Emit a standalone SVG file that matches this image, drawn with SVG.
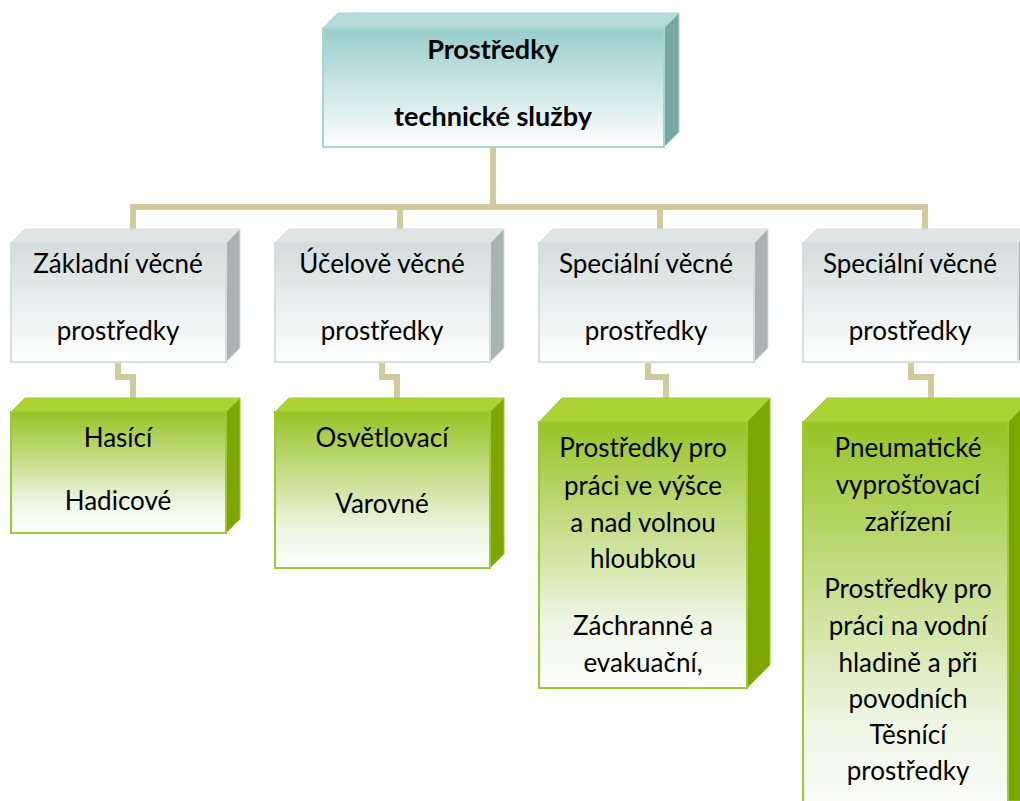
<svg xmlns="http://www.w3.org/2000/svg" width="1020" height="801" viewBox="0 0 1020 801">
<defs>
<linearGradient id="gTeal" x1="0" y1="0" x2="0" y2="1"><stop offset="0" stop-color="#98cdcb"/><stop offset="1" stop-color="#ffffff"/></linearGradient>
<linearGradient id="gGray" x1="0" y1="0" x2="0" y2="1"><stop offset="0" stop-color="#d3dcdc"/><stop offset="1" stop-color="#ffffff"/></linearGradient>
<linearGradient id="gGreen" x1="0" y1="0" x2="0" y2="1"><stop offset="0" stop-color="#97c425"/><stop offset="0.75" stop-color="#eef5e3"/><stop offset="1" stop-color="#ffffff"/></linearGradient>
</defs>
<style>
.conn{fill:none;stroke:#cfcb9e;stroke-width:6;stroke-linejoin:miter}
.tealF{fill:url(#gTeal);stroke:#a7d5d3;stroke-width:2}
.tealT{fill:#b4dbda;stroke:#a7d5d3;stroke-width:1}
.tealS{fill:#78a8a4;stroke:#a7d5d3;stroke-width:1}
.grayF{fill:url(#gGray);stroke:#d6dfdf;stroke-width:2}
.grayT{fill:#dfe5e5;stroke:#d6dfdf;stroke-width:1}
.grayS{fill:#a9b3b2;stroke:#d6dfdf;stroke-width:1}
.grnF{fill:url(#gGreen);stroke:#9cc935;stroke-width:2}
.grnT{fill:#acd434;stroke:#9cc935;stroke-width:1}
.grnS{fill:#7ea600;stroke:#9cc935;stroke-width:1}
text{font-family:Lato,"Liberation Sans",sans-serif;font-size:26px;fill:#000;text-anchor:middle}
.b{font-weight:bold;font-size:27px}
</style>
<g id="connectors">
<path class="conn" d="M493 147 V207 M133 229 V207 H925 V229 M400 207 V229 M660 207 V229"/>
<path class="conn" d="M118 362 V377 H133 V398"/>
<path class="conn" d="M382 362 V377 H397 V398"/>
<path class="conn" d="M648 362 V377 H666 V398"/>
<path class="conn" d="M911 362 V377 H931 V398"/>
</g>
<g id="root">
<polygon class="tealT" points="323,28 338,13 679,13 664,28"/>
<polygon class="tealS" points="664,28 679,13 679,132 664,147"/>
<rect class="tealF" x="323" y="28" width="341" height="119"/>
<text class="b" x="493" y="59">Prostředky</text>
<text class="b" x="493" y="126">technické služby</text>
</g>
<g id="zakladni">
<polygon class="grayT" points="11,243 25,229 240,229 226,243"/>
<polygon class="grayS" points="226,243 240,229 240,348 226,362"/>
<rect class="grayF" x="11" y="243" width="215" height="119"/>
<text x="118" y="273">Základní věcné</text>
<text x="118" y="340">prostředky</text>
</g>
<g id="ucelove">
<polygon class="grayT" points="275,243 289,229 504,229 490,243"/>
<polygon class="grayS" points="490,243 504,229 504,348 490,362"/>
<rect class="grayF" x="275" y="243" width="215" height="119"/>
<text x="382" y="273">Účelově věcné</text>
<text x="382" y="340">prostředky</text>
</g>
<g id="specialni1">
<polygon class="grayT" points="539,243 553,229 768,229 754,243"/>
<polygon class="grayS" points="754,243 768,229 768,348 754,362"/>
<rect class="grayF" x="539" y="243" width="215" height="119"/>
<text x="646" y="273">Speciální věcné</text>
<text x="646" y="340">prostředky</text>
</g>
<g id="specialni2">
<polygon class="grayT" points="803,243 817,229 1032,229 1018,243"/>
<polygon class="grayS" points="1018,243 1032,229 1032,348 1018,362"/>
<rect class="grayF" x="803" y="243" width="215" height="119"/>
<text x="910" y="273">Speciální věcné</text>
<text x="910" y="340">prostředky</text>
</g>
<g id="hasici">
<polygon class="grnT" points="11,412 25,398 240,398 226,412"/>
<polygon class="grnS" points="226,412 240,398 240,519 226,533"/>
<rect class="grnF" x="11" y="412" width="215" height="121"/>
<text x="118" y="447">Hasící</text>
<text x="118" y="510">Hadicové</text>
</g>
<g id="osvetlovaci">
<polygon class="grnT" points="275,412 289,398 504,398 490,412"/>
<polygon class="grnS" points="490,412 504,398 504,554 490,568"/>
<rect class="grnF" x="275" y="412" width="215" height="156"/>
<text x="382" y="447">Osvětlovací</text>
<text x="382" y="513">Varovné</text>
</g>
<g id="vyska">
<polygon class="grnT" points="539,422 562,398 770,398 747,422"/>
<polygon class="grnS" points="747,422 770,398 770,665 747,688"/>
<rect class="grnF" x="539" y="422" width="208" height="266"/>
<text x="643" y="457">Prostředky pro</text>
<text x="643" y="495">práci ve výšce</text>
<text x="643" y="532">a nad volnou</text>
<text x="643" y="568">hloubkou</text>
<text x="643" y="635">Záchranné a</text>
<text x="643" y="672">evakuační,</text>
</g>
<g id="pneumaticke">
<polygon class="grnT" points="803,422 827,398 1032,398 1008,422"/>
<polygon class="grnS" points="1008,422 1032,398 1032,801 1008,801"/>
<rect class="grnF" x="803" y="422" width="205" height="400"/>
<text x="908" y="457">Pneumatické</text>
<text x="908" y="494">vyprošťovací</text>
<text x="908" y="531">zařízení</text>
<text x="908" y="598">Prostředky pro</text>
<text x="908" y="635">práci na vodní</text>
<text x="908" y="672">hladině a při</text>
<text x="908" y="708">povodních</text>
<text x="908" y="744">Těsnící</text>
<text x="908" y="780">prostředky</text>
</g>
</svg>
